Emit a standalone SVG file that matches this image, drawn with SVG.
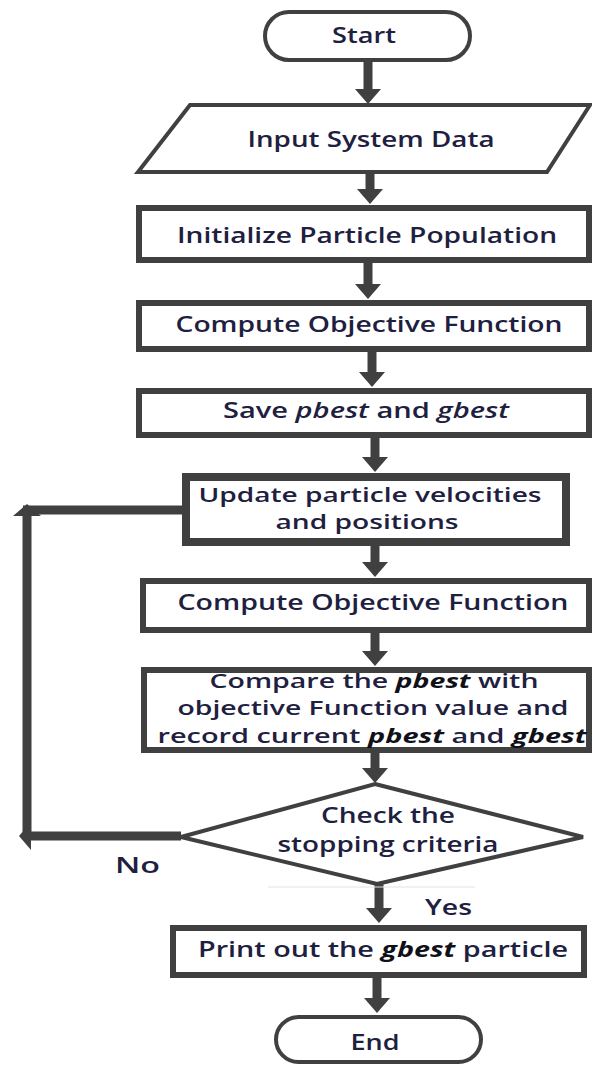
<svg xmlns="http://www.w3.org/2000/svg" width="592" height="1068" viewBox="0 0 592 1068">
<style>
.box{fill:#ffffff;stroke:#404040;stroke-width:6}
.thin{fill:#ffffff;stroke:#404040;stroke-width:4}
.t{font-family:"Open Sans","Liberation Sans",sans-serif;font-size:21px;font-weight:600;fill:#1e2040;text-anchor:middle}
.lbl{font-family:"Open Sans","Liberation Sans",sans-serif;font-size:21px;font-weight:600;fill:#1e2040}
.it{font-style:italic}
.bi{font-style:italic;font-weight:700;fill:#101018}
.c{fill:none;stroke:#404040;stroke-width:9}
</style>
<defs>
<marker id="ah" viewBox="0 0 15 26" refX="0" refY="13" markerWidth="15" markerHeight="26" markerUnits="userSpaceOnUse" orient="auto">
<path d="M0,0 L15,13 L0,26 z" fill="#404040"/>
</marker>
<marker id="ahs" viewBox="0 0 12 28" refX="0" refY="14" markerWidth="12" markerHeight="28" markerUnits="userSpaceOnUse" orient="auto">
<path d="M0,0 L12,14 L0,28 z" fill="#404040"/>
</marker>
</defs>
<g id="connectors">
<path class="c" d="M368,62 V89" marker-end="url(#ah)"/>
<path class="c" d="M370,172 V189" marker-end="url(#ah)"/>
<path class="c" d="M368,263 V284" marker-end="url(#ah)"/>
<path class="c" d="M372,352 V372" marker-end="url(#ah)"/>
<path class="c" d="M375,438 V457" marker-end="url(#ah)"/>
<path class="c" d="M375,546 V562" marker-end="url(#ah)"/>
<path class="c" d="M375,633 V651" marker-end="url(#ah)"/>
<path class="c" d="M375,753 V768" marker-end="url(#ah)"/>
<path class="c" d="M379,884 V908" marker-end="url(#ah)"/>
<path class="c" d="M377,978 V998" marker-end="url(#ah)"/>
<path class="c" d="M182,510 H23"/>
<path class="c" d="M27,836 V516" marker-end="url(#ahs)"/>
<path class="c" d="M181,836 H31" marker-end="url(#ahs)"/>
<line x1="268" y1="887" x2="475" y2="887" stroke="#e2e2e2" stroke-width="1"/>
<text class="lbl" x="115" y="873" textLength="45" lengthAdjust="spacingAndGlyphs">No</text>
<text class="lbl" x="425" y="915" textLength="47" lengthAdjust="spacingAndGlyphs">Yes</text>
</g>
<g id="start">
<rect class="thin" x="265" y="12" width="205" height="48" rx="24"/>
<text class="t" x="364" y="43" textLength="64" lengthAdjust="spacingAndGlyphs">Start</text>
</g>
<g id="input">
<polygon class="thin" points="190,105 590,105 547,172 138,172"/>
<text class="t" x="371" y="147" textLength="247" lengthAdjust="spacingAndGlyphs">Input System Data</text>
</g>
<g id="init">
<rect class="box" x="139" y="208" width="450" height="52"/>
<text class="t" x="367" y="243" textLength="380" lengthAdjust="spacingAndGlyphs">Initialize Particle Population</text>
</g>
<g id="compute1">
<rect class="box" x="139" y="303" width="450" height="46"/>
<text class="t" x="369" y="332" textLength="387" lengthAdjust="spacingAndGlyphs">Compute Objective Function</text>
</g>
<g id="save">
<rect class="box" x="139" y="391" width="450" height="44"/>
<text class="t" x="366" y="418" textLength="286" lengthAdjust="spacingAndGlyphs">Save <tspan class="it">pbest</tspan> and <tspan class="it">gbest</tspan></text>
</g>
<g id="update">
<rect class="box" style="stroke-width:8" x="186" y="477" width="380" height="65"/>
<text class="t" style="font-size:20px" x="370" y="502" textLength="343" lengthAdjust="spacingAndGlyphs">Update particle velocities</text>
<text class="t" style="font-size:20px" x="367" y="529" textLength="183" lengthAdjust="spacingAndGlyphs">and positions</text>
</g>
<g id="compute2">
<rect class="box" x="143" y="581" width="446" height="49"/>
<text class="t" x="373" y="610" textLength="391" lengthAdjust="spacingAndGlyphs">Compute Objective Function</text>
</g>
<g id="compare">
<rect class="box" x="144" y="670" width="445" height="80"/>
<text class="t" style="font-size:20px" x="374" y="688" textLength="329" lengthAdjust="spacingAndGlyphs">Compare the <tspan class="bi">pbest</tspan> with</text>
<text class="t" style="font-size:20px" x="373" y="715" textLength="391" lengthAdjust="spacingAndGlyphs">objective Function value and</text>
<text class="t" style="font-size:20px" x="372" y="743" textLength="429" lengthAdjust="spacingAndGlyphs">record current <tspan class="bi">pbest</tspan> and <tspan class="bi">gbest</tspan></text>
</g>
<g id="check">
<polygon class="thin" points="375,784 583,837 377,884 181,837"/>
<text class="t" x="388" y="823" textLength="134" lengthAdjust="spacingAndGlyphs">Check the</text>
<text class="t" x="388" y="852" textLength="221" lengthAdjust="spacingAndGlyphs">stopping criteria</text>
</g>
<g id="print">
<rect class="box" x="173" y="928" width="411" height="47"/>
<text class="t" x="383" y="957" textLength="370" lengthAdjust="spacingAndGlyphs">Print out the <tspan class="bi">gbest</tspan> particle</text>
</g>
<g id="end">
<rect class="thin" x="276" y="1017" width="205" height="45" rx="22.5"/>
<text class="t" x="375" y="1050" textLength="49" lengthAdjust="spacingAndGlyphs">End</text>
</g>
</svg>
